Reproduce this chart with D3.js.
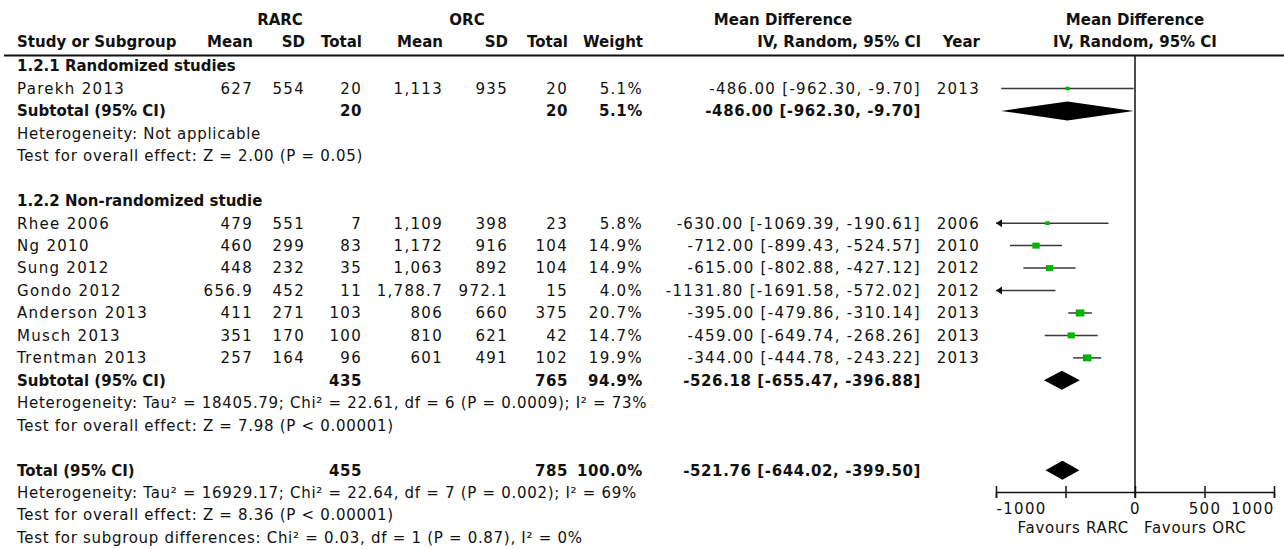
<!DOCTYPE html>
<html>
<head>
<meta charset="utf-8">
<script src="https://cdn.jsdelivr.net/npm/d3@7"></script>
<style>
  body { margin: 0; background: #fff; }
  svg { display: block; background: #fff; }
  text { font-family: "DejaVu Sans", Verdana, sans-serif; font-size: 15px; fill: #111; letter-spacing: 0.7px; }
  text.n { letter-spacing: 1.3px; }
  text.b { font-weight: bold; letter-spacing: 0px; }
  text.b.n { letter-spacing: 0.6px; }
</style>
</head>
<body>
<svg id="chart" width="1284" height="549"></svg>
<script>
// ---- study-level data ----
const studies  = ["Parekh 2013", "Rhee 2006", "Ng 2010", "Sung 2012", "Gondo 2012", "Anderson 2013", "Musch 2013", "Trentman 2013"];
const rarcMean = [627, 479, 460, 448, 656.9, 411, 351, 257];
const rarcSD   = [554, 551, 299, 232, 452, 271, 170, 164];
const rarcN    = [20, 7, 83, 35, 11, 103, 100, 96];
const orcMean  = [1113, 1109, 1172, 1063, 1788.7, 806, 810, 601];
const orcSD    = [935, 398, 916, 892, 972.1, 660, 621, 491];
const orcN     = [20, 23, 104, 104, 15, 375, 42, 102];
const weights  = [5.1, 5.8, 14.9, 14.9, 4.0, 20.7, 14.7, 19.9];
const md       = [-486.00, -630.00, -712.00, -615.00, -1131.80, -395.00, -459.00, -344.00];
const ciLow    = [-962.30, -1069.39, -899.43, -802.88, -1691.58, -479.86, -649.74, -444.78];
const ciHigh   = [-9.70, -190.61, -524.57, -427.12, -572.02, -310.14, -268.26, -243.22];
const years    = [2013, 2006, 2010, 2012, 2012, 2013, 2013, 2013];

// ---- pooled estimates: subgroup 1, subgroup 2, overall ----
const pooledLabels = ["Subtotal (95% CI)", "Subtotal (95% CI)", "Total (95% CI)"];
const pooledRarcN  = [20, 435, 455];
const pooledOrcN   = [20, 765, 785];
const pooledWeight = [5.1, 94.9, 100.0];
const pooledMd     = [-486.00, -526.18, -521.76];
const pooledLow    = [-962.30, -655.47, -644.02];
const pooledHigh   = [-9.70, -396.88, -399.50];

const groupTitles = ["1.2.1 Randomized studies", "1.2.2 Non-randomized studie"];
const statsGroup1 = ["Heterogeneity: Not applicable",
                     "Test for overall effect: Z = 2.00 (P = 0.05)"];
const statsGroup2 = ["Heterogeneity: Tau\u00b2 = 18405.79; Chi\u00b2 = 22.61, df = 6 (P = 0.0009); I\u00b2 = 73%",
                     "Test for overall effect: Z = 7.98 (P < 0.00001)"];
const statsTotal  = ["Heterogeneity: Tau\u00b2 = 16929.17; Chi\u00b2 = 22.64, df = 7 (P = 0.002); I\u00b2 = 69%",
                     "Test for overall effect: Z = 8.36 (P < 0.00001)",
                     "Test for subgroup differences: Chi\u00b2 = 0.03, df = 1 (P = 0.87), I\u00b2 = 0%"];

const axisTicks      = [-1000, -500, 0, 500, 1000];
const axisTickLabels = ["-1000", "", "0", "500", "1000"];
const favourLabels   = ["Favours RARC", "Favours ORC"];

// ---- layout ----
const svg = d3.select("#chart");
const rowY = d3.scaleLinear().domain([0, 21]).range([66, 537.5]);
const x = d3.scaleLinear().domain([-1000, 1000]).range([996, 1274]);
const col = { name: 17, m1: 253, s1: 305, n1: 362, m2: 443, s2: 508, n2: 568, w: 643, ci: 921, yr: 980 };
const num = d3.format(",");
const f2 = v => v.toFixed(2);
const ciText = (m, l, h) => `${f2(m)} [${f2(l)}, ${f2(h)}]`;

function txt(xp, yp, s, anchor = "start", bold = false, numeric = false) {
  const cls = [bold ? "b" : "", numeric ? "n" : ""].join(" ").trim();
  return svg.append("text")
    .attr("x", xp).attr("y", yp).attr("dy", "0.36em")
    .attr("text-anchor", anchor)
    .attr("class", cls || null)
    .text(s);
}

// header
txt(280, 20, "RARC", "middle", true);
txt(467, 20, "ORC", "middle", true);
txt(783, 20, "Mean Difference", "middle", true);
txt(x(0), 20, "Mean Difference", "middle", true);
txt(col.name, 42, "Study or Subgroup", "start", true);
txt(col.m1, 42, "Mean", "end", true);
txt(col.s1, 42, "SD", "end", true);
txt(col.n1, 42, "Total", "end", true);
txt(col.m2, 42, "Mean", "end", true);
txt(col.s2, 42, "SD", "end", true);
txt(col.n2, 42, "Total", "end", true);
txt(col.w, 42, "Weight", "end", true);
txt(col.ci, 42, "IV, Random, 95% CI", "end", true);
txt(col.yr, 42, "Year", "end", true);
txt(x(0), 42, "IV, Random, 95% CI", "middle", true);

svg.append("line").attr("x1", 4).attr("x2", 1284).attr("y1", 55.5).attr("y2", 55.5)
  .attr("stroke", "#111").attr("stroke-width", 2);

// line of no effect
svg.append("line").attr("x1", x(0)).attr("x2", x(0)).attr("y1", 56).attr("y2", 498)
  .attr("stroke", "#111").attr("stroke-width", 1.5);

// rows of each subgroup
const studyRows = [1, 7, 8, 9, 10, 11, 12, 13];
const pooledRows = [2, 14, 18];
txt(col.name, rowY(0), groupTitles[0], "start", true);
txt(col.name, rowY(6), groupTitles[1], "start", true);
statsGroup1.forEach((s, i) => txt(col.name, rowY(3 + i), s));
statsGroup2.forEach((s, i) => txt(col.name, rowY(15 + i), s));
statsTotal.forEach((s, i) => txt(col.name, rowY(19 + i), s));

const [xMin, xMax] = x.domain();
studies.forEach((name, i) => {
  const y = rowY(studyRows[i]);
  txt(col.name, y, name, "start", false, true);
  txt(col.m1, y, num(rarcMean[i]), "end", false, true);
  txt(col.s1, y, num(rarcSD[i]), "end", false, true);
  txt(col.n1, y, num(rarcN[i]), "end", false, true);
  txt(col.m2, y, num(orcMean[i]), "end", false, true);
  txt(col.s2, y, num(orcSD[i]), "end", false, true);
  txt(col.n2, y, num(orcN[i]), "end", false, true);
  txt(col.w, y, weights[i].toFixed(1) + "%", "end", false, true);
  txt(col.ci, y, ciText(md[i], ciLow[i], ciHigh[i]), "end", false, true);
  txt(col.yr, y, String(years[i]), "end", false, true);

  // confidence interval, clipped to the axis range with an arrow where it runs off
  const lo = Math.max(ciLow[i], xMin), hi = Math.min(ciHigh[i], xMax);
  svg.append("line").attr("x1", x(lo)).attr("x2", x(hi)).attr("y1", y).attr("y2", y)
    .attr("stroke", "#3a3a3a").attr("stroke-width", 1.5);
  if (ciLow[i] < xMin) {
    const ax = x(xMin);
    svg.append("path").attr("d", `M${ax},${y}L${ax + 6},${y - 4}L${ax + 6},${y + 4}Z`).attr("fill", "#111");
  }
  if (ciHigh[i] > xMax) {
    const ax = x(xMax);
    svg.append("path").attr("d", `M${ax},${y}L${ax - 6},${y - 4}L${ax - 6},${y + 4}Z`).attr("fill", "#111");
  }
  // weight box
  if (md[i] >= xMin && md[i] <= xMax) {
    const bw = 1.9 * Math.sqrt(weights[i]), bh = bw * 0.82;
    svg.append("rect").attr("x", x(md[i]) - bw / 2).attr("y", y - bh / 2)
      .attr("width", bw).attr("height", bh).attr("fill", "#00b400");
  }
});

pooledLabels.forEach((label, i) => {
  const y = rowY(pooledRows[i]);
  txt(col.name, y, label, "start", true);
  txt(col.n1, y, num(pooledRarcN[i]), "end", true, true);
  txt(col.n2, y, num(pooledOrcN[i]), "end", true, true);
  txt(col.w, y, pooledWeight[i].toFixed(1) + "%", "end", true, true);
  txt(col.ci, y, ciText(pooledMd[i], pooledLow[i], pooledHigh[i]), "end", true, true);
  const h = 9.5;
  svg.append("path")
    .attr("d", `M${x(pooledLow[i])},${y}L${x(pooledMd[i])},${y - h}L${x(pooledHigh[i])},${y}L${x(pooledMd[i])},${y + h}Z`)
    .attr("fill", "#000");
});

// axis
const axisY = 492;
const axis = d3.axisBottom(x).tickValues(axisTicks).tickSizeOuter(0).tickSize(6)
  .tickFormat((d, i) => axisTickLabels[i]);
const g = svg.append("g").attr("transform", `translate(0,${axisY})`).call(axis);
g.select(".domain").attr("stroke", "#111").attr("stroke-width", 1.5);
g.selectAll(".tick line").attr("y1", -6).attr("y2", 6).attr("stroke", "#111").attr("stroke-width", 1.5);
g.selectAll(".tick text")
  .attr("class", "n")
  .attr("y", 11).attr("dy", "0.71em")
  .style("font-family", '"DejaVu Sans", Verdana, sans-serif').style("font-size", "15px").attr("fill", "#111")
  .attr("text-anchor", (d, i) => i === 0 ? "start" : (i === axisTicks.length - 1 ? "end" : "middle"));

txt(x(0) - 6, 528, favourLabels[0], "end");
txt(x(0) + 9, 528, favourLabels[1], "start");
</script>
</body>
</html>
